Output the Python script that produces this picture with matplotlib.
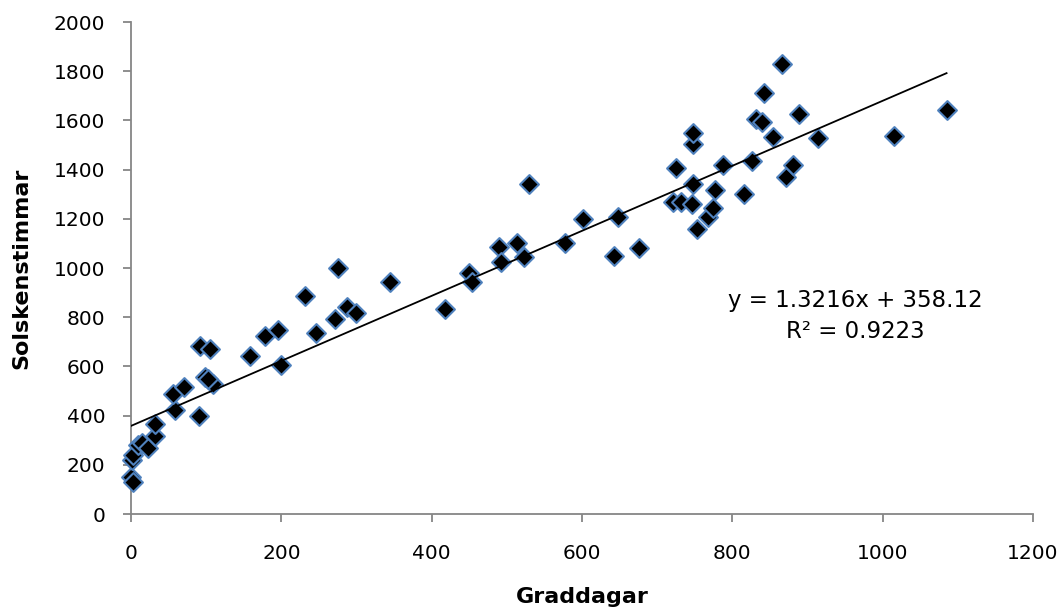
import numpy as np
import matplotlib
matplotlib.use('Agg')
import matplotlib.pyplot as plt

# Graddagar (x) and Solskenstimmar (y)
graddagar = [0, 2, 1, 3, 9, 14, 23, 32, 32, 58, 56, 70, 91, 109, 98, 102, 92, 105,
             158, 178, 195, 199, 246, 231, 272, 288, 299, 275, 345,
             418, 450, 453, 490, 492, 513, 523, 529, 577, 601, 648, 642, 676,
             725, 721, 732, 746, 748, 748, 748, 753, 768, 774, 777, 787, 816, 826,
             832, 840, 842, 854, 866, 872, 881, 889, 914, 1015, 1085]
solsken = [151, 131, 220, 240, 280, 288, 267, 317, 366, 423, 488, 518, 398, 527, 558, 550, 684, 670,
           643, 724, 748, 606, 737, 887, 793, 843, 816, 999, 944,
           833, 978, 942, 1087, 1023, 1103, 1046, 1340, 1103, 1199, 1209, 1049, 1080,
           1405, 1267, 1267, 1260, 1341, 1504, 1550, 1157, 1209, 1245, 1317, 1419, 1301, 1436,
           1604, 1595, 1713, 1531, 1829, 1371, 1419, 1626, 1530, 1538, 1642]

# linear trendline as printed on the chart
slope = 1.3216
intercept = 358.12

fig = plt.figure(figsize=(10.64, 6.10), dpi=100)
ax = fig.add_axes([131 / 1064, 1 - 514 / 610, (1033 - 131) / 1064, (514 - 22) / 610])

ax.scatter(graddagar, solsken, marker='D', s=92, facecolor='black',
           edgecolor='#4F81BD', linewidth=1.5, zorder=3, clip_on=False)

xs = np.array([0, max(graddagar)])
ax.plot(xs, slope * xs + intercept, color='black', linewidth=1.3, zorder=4)

ax.set_xlim(0, 1200)
ax.set_ylim(0, 2000)
ax.set_xticks(np.arange(0, 1201, 200))
ax.set_yticks(np.arange(0, 2001, 200))

for side in ['top', 'right']:
    ax.spines[side].set_visible(False)
for side in ['left', 'bottom']:
    ax.spines[side].set_color('#868686')
    ax.spines[side].set_linewidth(1.3)
ax.tick_params(axis='both', direction='out', length=5.5, width=1.3, color='#868686',
               labelsize=14.5, labelcolor='black')
ax.tick_params(axis='y', pad=13)
ax.tick_params(axis='x', pad=16)

ax.set_xlabel('Graddagar', fontsize=16, fontweight='bold', va='center')
ax.set_ylabel('Solskenstimmar', fontsize=16, fontweight='bold', va='center')
ax.xaxis.set_label_coords(0.5, -0.169)
ax.yaxis.set_label_coords(-0.121, 0.5)

ax.text(0.803, 0.402, f'y = {slope}x + {intercept}\nR\u00b2 = 0.9223', transform=ax.transAxes,
        ha='center', va='center', fontsize=16.5, linespacing=1.45)

fig.savefig('out.png', dpi=100)
